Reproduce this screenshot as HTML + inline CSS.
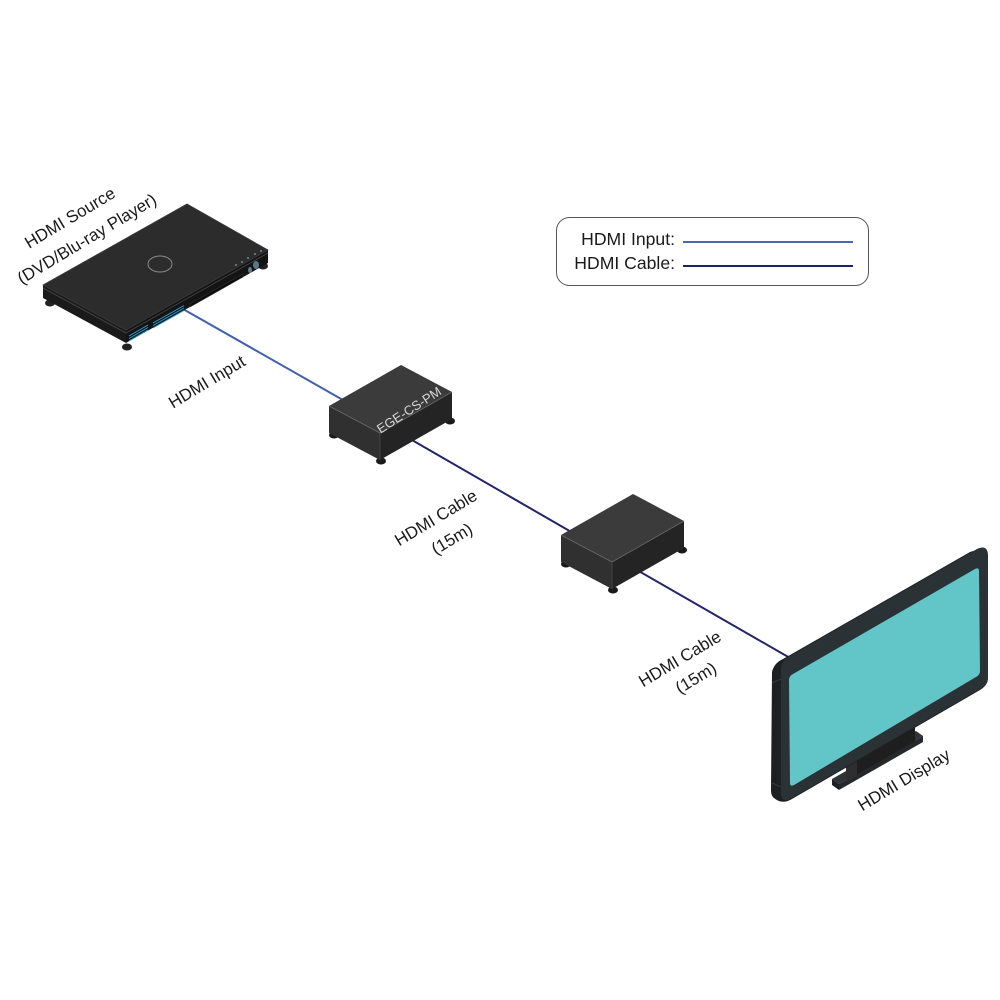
<!DOCTYPE html>
<html>
<head>
<meta charset="utf-8">
<style>
  html,body{margin:0;padding:0;background:#fff;}
  svg{display:block;}
  text{font-family:"Liberation Sans", sans-serif;}
</style>
</head>
<body>
<svg width="1000" height="1000" viewBox="0 0 1000 1000" xmlns="http://www.w3.org/2000/svg">
  <rect width="1000" height="1000" fill="#ffffff"/>

  <!-- Connection lines (drawn first, devices cover them) -->
  <line x1="183" y1="309" x2="350" y2="404" stroke="#4260b0" stroke-width="2"/>
  <line x1="405" y1="436" x2="580" y2="537" stroke="#22246a" stroke-width="2"/>
  <line x1="630" y1="566" x2="790" y2="658" stroke="#22246a" stroke-width="2"/>

  <!-- DVD / Blu-ray player -->
  <g>
    <ellipse cx="50" cy="303" rx="5" ry="3.5" fill="#222"/>
    <ellipse cx="127" cy="347" rx="5" ry="3.5" fill="#222"/>
    <ellipse cx="263" cy="266" rx="5" ry="3.5" fill="#222"/>
    <polygon points="43,285 126,330 126,343 43,298" fill="#1a1a1a"/>
    <polygon points="126,330 268,250 268,263 126,343" fill="#141414"/>
    <line x1="43" y1="288" x2="126" y2="333" stroke="#4a4a4a" stroke-width="0.8"/>
    <line x1="126" y1="333" x2="268" y2="253" stroke="#4a4a4a" stroke-width="0.8"/>
    <polygon points="187,204 268,250 126,330 43,285" fill="#2c2c2c" stroke="#3a3a3a" stroke-width="0.8"/>
    <ellipse cx="160" cy="264" rx="12" ry="8" fill="none" stroke="#8a8a8a" stroke-width="1"/>
    <polygon points="190,304 243,274 243,277 190,307" fill="#0b0b0b" stroke="#333" stroke-width="0.6"/>
    <g stroke="#2aa3d6" stroke-width="0.9">
      <line x1="129" y1="336" x2="148" y2="325"/>
      <line x1="129" y1="338.5" x2="148" y2="327.5"/>
      <line x1="129" y1="341" x2="148" y2="330"/>
      <line x1="153" y1="323" x2="184" y2="305.5"/>
      <line x1="153" y1="325.5" x2="184" y2="308"/>
      <line x1="153" y1="328" x2="184" y2="310.5"/>
    </g>
    <g fill="#6a8aa0">
      <circle cx="236" cy="265" r="1"/>
      <circle cx="242" cy="262" r="1"/>
      <circle cx="248" cy="258" r="1"/>
      <circle cx="255" cy="254" r="1"/>
      <circle cx="261" cy="251" r="1"/>
    </g>
    <ellipse cx="250" cy="270" rx="2" ry="3" fill="#5d7d90"/>
    <ellipse cx="256" cy="265" rx="3" ry="4" fill="#587689"/>
  </g>

  <!-- Box 1 : EGE-CS-PM -->
  <g>
    <ellipse cx="334" cy="435" rx="5" ry="3.5" fill="#1a1a1a"/>
    <ellipse cx="381" cy="461" rx="5" ry="3.5" fill="#1a1a1a"/>
    <ellipse cx="450" cy="421" rx="5" ry="3.5" fill="#1a1a1a"/>
    <polygon points="329,406 380,433 380,460 329,433" fill="#303030"/>
    <polygon points="380,433 452,392 452,419 380,460" fill="#242424"/>
    <polygon points="401,365 452,392 380,433 329,406" fill="#3b3b3b"/>
    <polyline points="329,406 380,433 452,392" fill="none" stroke="#6a6a6a" stroke-width="0.8"/>
    <line x1="380" y1="433" x2="380" y2="460" stroke="#555" stroke-width="0.6"/>
    <text x="409" y="410" font-size="13" fill="#d8d8d8" text-anchor="middle" dominant-baseline="central" transform="rotate(-33 409 410)">EGE-CS-PM</text>
  </g>

  <!-- Box 2 -->
  <g>
    <ellipse cx="566" cy="564" rx="5" ry="3.5" fill="#1a1a1a"/>
    <ellipse cx="613" cy="590" rx="5" ry="3.5" fill="#1a1a1a"/>
    <ellipse cx="682" cy="550" rx="5" ry="3.5" fill="#1a1a1a"/>
    <polygon points="561,535 612,562 612,589 561,562" fill="#303030"/>
    <polygon points="612,562 684,521 684,548 612,589" fill="#242424"/>
    <polygon points="633,494 684,521 612,562 561,535" fill="#3b3b3b"/>
    <polyline points="561,535 612,562 684,521" fill="none" stroke="#6a6a6a" stroke-width="0.8"/>
    <line x1="612" y1="562" x2="612" y2="589" stroke="#555" stroke-width="0.6"/>
  </g>

  <!-- TV stand -->
  <g>
    <polygon points="832,779 916,731 923,736 839,784" fill="#2e3336"/>
    <polygon points="832,779 839,784 839,790 832,785" fill="#1d2123"/>
    <polygon points="839,784 923,736 923,742 839,790" fill="#25292c"/>
    <polygon points="846,767 915,727 915,741 846,781" fill="#1e1e1e"/>
    <polygon points="846,767 857,761 857,776 846,782" fill="#2e2e2e"/>
  </g>

  <!-- TV -->
  <g>
    <path d="M772,672 Q774,663 783,659 L970,552 Q980,548 988,558 L988,678 Q988,685 980,690 L792,799 Q782,805 774,798 Q771,796 771,790 Z" fill="#1c2022"/>
    <path d="M781,668 Q782,660 790,656 L977,549 Q988,544 988,556 L988,677 Q988,684 980,689 L792,798 Q781,804 781,793 Z" fill="#2b3236"/>
    <line x1="772" y1="683" x2="781" y2="679" stroke="#3a4145" stroke-width="0.7"/>
    <line x1="772" y1="783" x2="781" y2="787" stroke="#3a4145" stroke-width="0.7"/>
    <path d="M789,680 Q789,676 793,674 L975,569 Q979,567 979,571 L980,671 Q980,675 976,677 L794,785 Q790,787 790,783 Z" fill="#62c6c8"/>
  </g>

  <!-- Legend -->
  <rect x="556.5" y="217.5" width="312" height="68" rx="13" ry="13" fill="#fff" stroke="#555" stroke-width="1"/>
  <text x="675" y="245" font-size="17.6" fill="#1a1a1a" text-anchor="end">HDMI Input:</text>
  <text x="675" y="269" font-size="17.6" fill="#1a1a1a" text-anchor="end">HDMI Cable:</text>
  <line x1="683" y1="242" x2="853" y2="242" stroke="#4a66b3" stroke-width="2"/>
  <line x1="683" y1="266" x2="853" y2="266" stroke="#1e2366" stroke-width="2"/>

  <!-- Labels -->
  <g font-size="17" fill="#1a1a1a" text-anchor="middle" dominant-baseline="central">
    <text x="70" y="218" transform="rotate(-31 70 218)">HDMI Source</text>
    <text x="87" y="239" transform="rotate(-31 87 239)">(DVD/Blu-ray Player)</text>
    <text x="207" y="382" transform="rotate(-31 207 382)">HDMI Input</text>
    <text x="436" y="518" transform="rotate(-31 436 518)">HDMI Cable</text>
    <text x="452" y="539" transform="rotate(-31 452 539)">(15m)</text>
    <text x="680" y="659" transform="rotate(-31 680 659)">HDMI Cable</text>
    <text x="696" y="678" transform="rotate(-31 696 678)">(15m)</text>
    <text x="904" y="780" transform="rotate(-31 904 780)">HDMI Display</text>
  </g>
</svg>
</body>
</html>
